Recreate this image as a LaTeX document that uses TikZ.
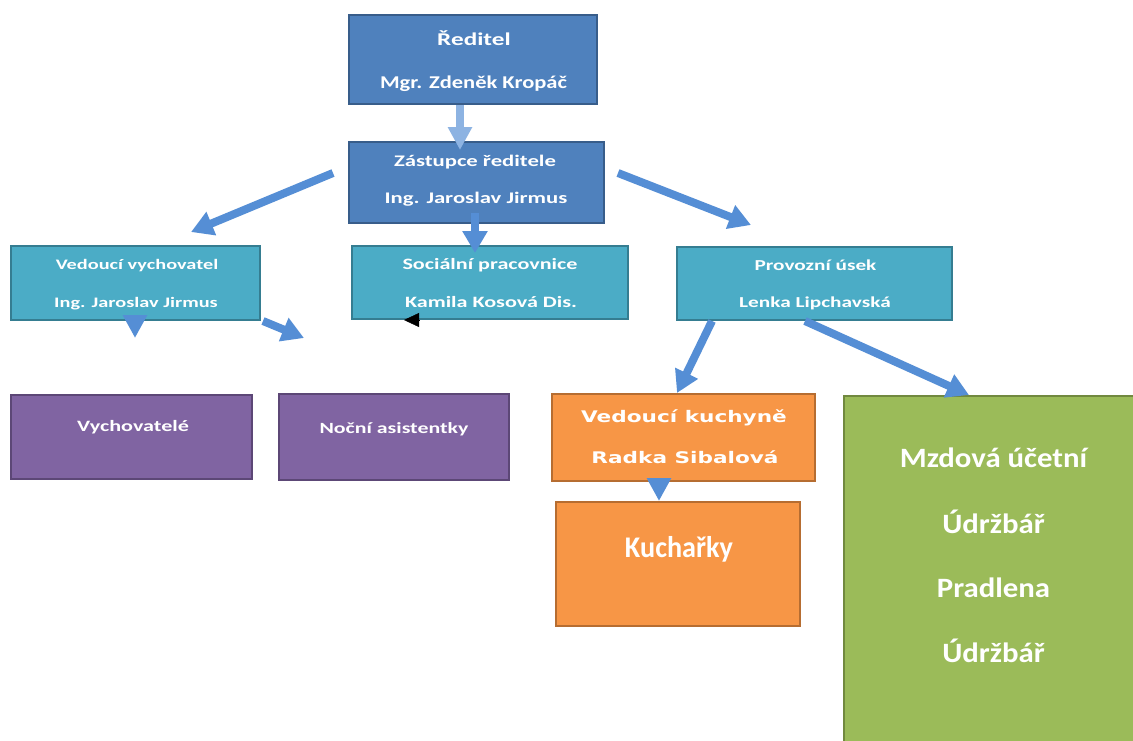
\documentclass[tikz,border=0pt]{standalone}
\usepackage{fontspec}
\setmainfont{Carlito}
\newfontfamily\fW{Carlito}[FakeStretch=1.4]
\newfontfamily\fM{Carlito}[FakeStretch=1.25]
\newfontfamily\fG{Carlito}[FakeStretch=1.1]
\newfontfamily\fN{Carlito}[FakeStretch=0.94]
\newfontfamily\fV{DejaVu Sans}[FakeStretch=1.35]
\usetikzlibrary{arrows.meta}
\definecolor{bluefill}{HTML}{4F81BD}
\definecolor{blueline}{HTML}{385D8A}
\definecolor{tealfill}{HTML}{4BACC6}
\definecolor{tealline}{HTML}{357D91}
\definecolor{purfill}{HTML}{8064A2}
\definecolor{purline}{HTML}{5C4776}
\definecolor{orfill}{HTML}{F79646}
\definecolor{orline}{HTML}{B66D31}
\definecolor{grfill}{HTML}{9BBB59}
\definecolor{grline}{HTML}{71893F}
\definecolor{arrblue}{HTML}{558ED5}
\definecolor{arrlight}{HTML}{8DB3E2}
\tikzset{
  box/.style={draw, line width=2.5pt, inner sep=0pt},
  bluebox/.style={box, fill=bluefill, draw=blueline},
  tealbox/.style={box, fill=tealfill, draw=tealline},
  purbox/.style={box, fill=purfill, draw=purline},
  orbox/.style={box, fill=orfill, draw=orline},
  grbox/.style={box, fill=grfill, draw=grline},
  txt/.style={text=white, inner sep=0pt, anchor=base},
  arr/.style={draw=arrblue, line width=8pt, -{Triangle[length=22pt,width=24pt]}},
  arrl/.style={draw=arrlight, line width=8.5pt, -{Triangle[length=23pt,width=23pt]}},
  tri/.style={draw=arrblue, line width=8pt, -{Triangle[length=23pt,width=23pt]}},
}
\begin{document}
\begin{tikzpicture}[x=1pt,y=-1pt]
\useasboundingbox (0,0) rectangle (1133,740);
\clip (0,0) rectangle (1133,740);
\fill[white] (0,0) rectangle (1133,740);

% boxes
\node[bluebox, minimum width=248pt, minimum height=89pt] (red) at (473,59.5) {};
\node[bluebox, minimum width=255pt, minimum height=81pt] (zast) at (476.5,182.5) {};
\node[tealbox, minimum width=249pt, minimum height=74pt] (vv) at (135.5,283) {};
\node[tealbox, minimum width=276pt, minimum height=73pt] (soc) at (490,282.5) {};
\node[tealbox, minimum width=275pt, minimum height=73pt] (prov) at (814.5,283.5) {};
\node[purbox, minimum width=241pt, minimum height=84pt] (vych) at (131.5,437) {};
\node[purbox, minimum width=230pt, minimum height=86pt] (noc) at (394,437) {};
\node[orbox, minimum width=263pt, minimum height=87pt] (kv) at (683.5,437.5) {};
\node[orbox, minimum width=244pt, minimum height=124pt] (kuch) at (678,564) {};
\node[grbox, minimum width=301pt, minimum height=359pt] (green) at (994.5,575.5) {};

% texts
\node[txt, font=\fW\bfseries\fontsize{18}{20}\selectfont] (t1) at (474,45) {Ředitel};
\node[txt, font=\fM\bfseries\fontsize{18}{20}\selectfont] (t2) at (473.5,88) {Mgr. Zdeněk Kropáč};
\node[txt, font=\fW\bfseries\fontsize{16.2}{18}\selectfont] (t3) at (475,166) {Zástupce ředitele};
\node[txt, font=\fW\bfseries\fontsize{16.2}{18}\selectfont] (t4) at (476,203) {Ing. Jaroslav Jirmus};
\node[txt, font=\fW\bfseries\fontsize{14.5}{16}\selectfont] (t5) at (137,269) {Vedoucí vychovatel};
\node[txt, font=\fW\bfseries\fontsize{14.5}{16}\selectfont] (t6) at (136,307) {Ing. Jaroslav Jirmus};
\node[txt, font=\fW\bfseries\fontsize{15.8}{18}\selectfont] (t7) at (490,269) {Sociální pracovnice};
\node[txt, font=\fW\bfseries\fontsize{15.8}{18}\selectfont] (t8) at (491,307) {Kamila Kosová Dis.};
\node[txt, font=\fW\bfseries\fontsize{15.2}{17}\selectfont] (t9) at (815.5,270) {Provozní úsek};
\node[txt, font=\fW\bfseries\fontsize{15.2}{17}\selectfont] (t10) at (815,307) {Lenka Lipchavská};
\node[txt, font=\fW\bfseries\fontsize{15.8}{18}\selectfont] (t11) at (133,431) {Vychovatelé};
\node[txt, font=\fW\bfseries\fontsize{15.6}{18}\selectfont] (t12) at (394,433) {Noční asistentky};
\node[txt, font=\fV\bfseries\fontsize{16}{18}\selectfont] (t13) at (684,422) {Vedoucí kuchyně};
\node[txt, font=\fV\bfseries\fontsize{16}{18}\selectfont] (t14) at (685,463) {Radka Sibalová};
\node[txt, font=\fN\bfseries\fontsize{30}{32}\selectfont] (t15) at (679,557) {Kuchařky};
\node[txt, font=\fG\bfseries\fontsize{28}{30}\selectfont] (t16) at (993.5,467) {Mzdová účetní};
\node[txt, font=\fG\bfseries\fontsize{28}{30}\selectfont] (t17) at (993.5,533) {Údržbář};
\node[txt, font=\fG\bfseries\fontsize{28}{30}\selectfont] (t18) at (993.5,597) {Pradlena};
\node[txt, font=\fG\bfseries\fontsize{28}{30}\selectfont] (t19) at (993.5,662) {Údržbář};

% connector end points
\coordinate (aEnd) at (460,150);
\coordinate (bStart) at (333,173);
\coordinate (bEnd) at (191,232);
\coordinate (cStart) at (475,213);
\coordinate (cEnd) at (475,253);
\coordinate (dStart) at (618,173);
\coordinate (dEnd) at (751,225);
\coordinate (eStart) at (135,315);
\coordinate (eEnd) at (135,338);
\coordinate (fStart) at (263,321);
\coordinate (fEnd) at (304,338);
\coordinate (gStart) at (419,320);
\coordinate (gEnd) at (404,320);
\coordinate (hStart) at (712,321);
\coordinate (hEnd) at (677,393);
\coordinate (iStart) at (805,321);
\coordinate (iEnd) at (969,395);
\coordinate (jStart) at (659,478);
\coordinate (jEnd) at (659,501);

% connectors
\draw[arrl] ([xshift=-13pt]red.south) -- (aEnd);
\draw[arr] (bStart) -- (bEnd);
\draw[arr] (cStart) -- (cEnd);
\draw[arr] (dStart) -- (dEnd);
\draw[tri] (eStart) -- (eEnd);
\draw[arr] (fStart) -- (fEnd);
\draw[black, line width=0.4pt, -{Triangle[length=15pt,width=14pt]}] (gStart) -- (gEnd);
\draw[arr] (hStart) -- (hEnd);
\draw[arr] (iStart) -- (iEnd);
\draw[tri] (jStart) -- (jEnd);
\end{tikzpicture}
\end{document}
